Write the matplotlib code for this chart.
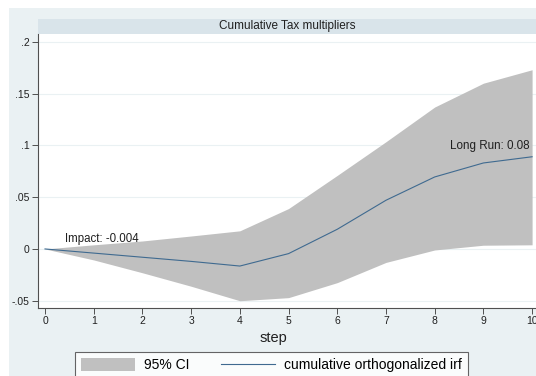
import matplotlib.pyplot as plt
from matplotlib.patches import Rectangle, Patch
from matplotlib.lines import Line2D
from matplotlib.ticker import FixedLocator, FixedFormatter

plt.rcParams['font.family'] = ['Liberation Sans', 'DejaVu Sans']

# cumulative orthogonalized irf and its 95% band, steps 0..10
steps = [0, 1, 2, 3, 4, 5, 6, 7, 8, 9, 10]
irf = [0.0, -0.004, -0.008, -0.012, -0.0165, -0.0045, 0.019, 0.047, 0.0695, 0.083, 0.089]
ci_upper = [0.0, 0.004, 0.0077, 0.0125, 0.0175, 0.039, 0.071, 0.1035, 0.137, 0.160, 0.173]
ci_lower = [0.0, -0.0106, -0.023, -0.036, -0.050, -0.047, -0.0325, -0.013, -0.001, 0.0036, 0.004]

yticks = [-0.05, 0, 0.05, 0.1, 0.15, 0.2]
ytick_labels = ['-.05', '0', '.05', '.1', '.15', '.2']

title = 'Cumulative Tax multipliers'
impact_label = 'Impact: -0.004'
longrun_label = 'Long Run: 0.08'

W, H = 536, 376
BG = '#eaf1f3'
BAR = '#d9e4ea'
NAVY = '#3f6a90'

fig = plt.figure(figsize=(W / 100, H / 100), dpi=100, facecolor='white')

# graph region
fig.patches.append(Rectangle((9 / W, 0), 1, 1 - 8 / H, transform=fig.transFigure,
                             facecolor=BG, edgecolor='none', zorder=-2))
# title strip
fig.patches.append(Rectangle((38 / W, 1 - 34 / H), 1, 15 / H, transform=fig.transFigure,
                             facecolor=BAR, edgecolor='none', zorder=-1))
fig.text((38 + W) / 2 / W, 1 - 26.5 / H, title, ha='center', va='center', fontsize=8.5, color='#202020')

ax = fig.add_axes([38 / W, 1 - 308 / H, 1 - 38 / W, (308 - 34) / H])
ax.set_facecolor('white')

ax.fill_between(steps, ci_lower, ci_upper, color='#c0c0c0', linewidth=0, zorder=2)
ax.plot(steps, irf, color=NAVY, linewidth=0.8, zorder=3)

ax.set_xlim(-0.144, 10.08)
ax.set_ylim(-0.057, 0.2075)

ax.xaxis.set_major_locator(FixedLocator(steps))
ax.yaxis.set_major_locator(FixedLocator(yticks))
ax.yaxis.set_major_formatter(FixedFormatter(ytick_labels))
ax.grid(axis='y', color=BG, linewidth=0.8, zorder=1)
ax.set_axisbelow(True)

for side in ['top', 'right']:
    ax.spines[side].set_visible(False)
for side in ['left', 'bottom']:
    ax.spines[side].set_color('#505050')
    ax.spines[side].set_linewidth(0.8)
ax.tick_params(axis='both', direction='out', length=4, width=0.7, color='#505050',
               labelsize=7.5, labelcolor='#202020', pad=2)

ax.set_xlabel('step', fontsize=10.5, color='#202020', labelpad=5)
ax.xaxis.set_label_coords(0.472, -0.085)

ax.text(0.41, 0.0097, impact_label, ha='left', va='center', fontsize=8.3, color='#202020', zorder=4)
ax.text(9.94, 0.0994, longrun_label, ha='right', va='center', fontsize=8.4, color='#202020', zorder=4)

handles = [Patch(facecolor='#c0c0c0', edgecolor='none'),
           Line2D([0], [0], color=NAVY, linewidth=0.8)]
leg = fig.legend(handles, ['95% CI', 'cumulative orthogonalized irf'], ncol=2,
                 loc='upper left', bbox_to_anchor=(75 / W, 1 - 352 / H),
                 frameon=True, fancybox=False, fontsize=10, handlelength=3.9,
                 handleheight=1.0, handletextpad=0.6, columnspacing=2.3,
                 borderpad=0.45, borderaxespad=0)
leg.get_frame().set_edgecolor('#404040')
leg.get_frame().set_linewidth(0.8)
leg.get_frame().set_facecolor('white')

fig.savefig('out.png', dpi=100, facecolor=fig.get_facecolor())
